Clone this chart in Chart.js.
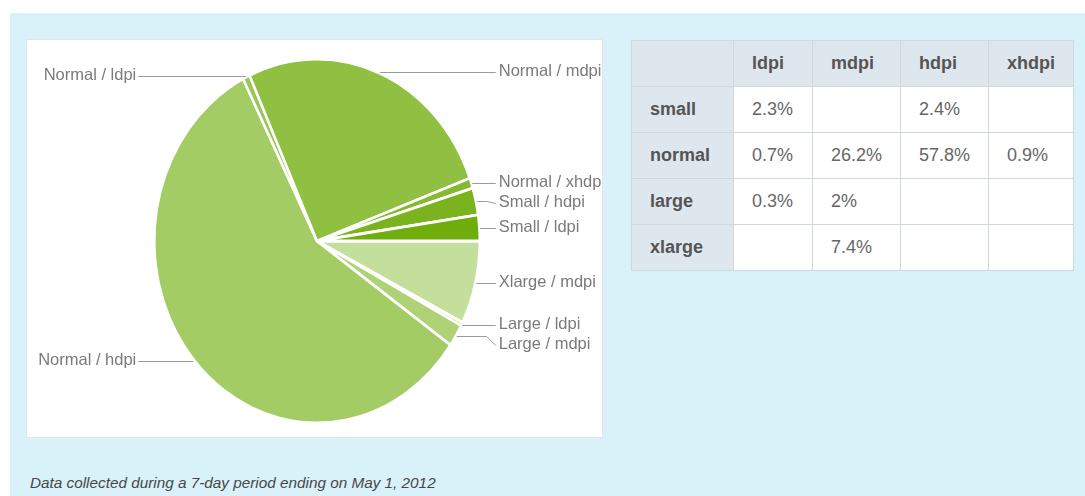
<!DOCTYPE html>
<html>
<head>
<meta charset="utf-8">
<script src="https://cdn.jsdelivr.net/npm/chart.js@4.4.1/dist/chart.umd.min.js"></script>
<style>
  html, body { margin: 0; padding: 0; background: #ffffff; width: 1085px; height: 496px; overflow: hidden; font-family: "Liberation Sans", Arial, sans-serif; }
  #bg { position: absolute; left: 10px; top: 13px; right: 0; bottom: 0; background: #d9f1f9; }
  #panel { position: absolute; left: 27px; top: 40px; width: 575px; height: 397px; background: #ffffff; box-shadow: 0 0 0 1px #dfe6ea; overflow: hidden; }
  #panel canvas { position: absolute; left: 0; top: 0; }
  #tbl { position: absolute; left: 631px; top: 40px; border-collapse: collapse; font-size: 18px; }
  #tbl td, #tbl th { border: 1px solid #cfd8df; height: 46px; padding: 0 0 0 18px; text-align: left; box-sizing: border-box; }
  #tbl th { background: #dfe7ee; color: #555; font-weight: bold; }
  #tbl td { background: #ffffff; color: #666; }
  #caption { position: absolute; left: 30px; top: 474px; font-style: italic; font-size: 15.3px; color: #474747; white-space: nowrap; }
</style>
</head>
<body>
<div id="bg"></div>
<div id="panel"><canvas id="pie" width="575" height="397"></canvas></div>
<table id="tbl"></table>
<div id="caption">Data collected during a 7-day period ending on May 1, 2012</div>
<script>
// ---- data ----
const categories = ['Xlarge / mdpi', 'Large / ldpi', 'Large / mdpi', 'Normal / hdpi', 'Normal / ldpi', 'Normal / mdpi', 'Normal / xhdpi', 'Small / hdpi', 'Small / ldpi'];
const shares = [7.4, 0.3, 2, 57.8, 0.7, 26.2, 0.9, 2.4, 2.3];
const sliceColors = ['#c4df9b', '#b9d989', '#afd277', '#a4cc65', '#9ac654', '#8fc042', '#84b930', '#7ab31e', '#6fad0c'];

const densities = ['ldpi', 'mdpi', 'hdpi', 'xhdpi'];
const screenSizes = ['small', 'normal', 'large', 'xlarge'];
const smallRow = ['2.3%', '', '2.4%', ''];
const normalRow = ['0.7%', '26.2%', '57.8%', '0.9%'];
const largeRow = ['0.3%', '2%', '', ''];
const xlargeRow = ['', '7.4%', '', ''];
const tableRows = [smallRow, normalRow, largeRow, xlargeRow];

// ---- table ----
const colWidths = [102, 79, 88, 88, 85];
const tbl = document.getElementById('tbl');
let html = '<tr><th style="width:' + colWidths[0] + 'px"></th>';
densities.forEach((d, i) => { html += '<th style="width:' + colWidths[i + 1] + 'px">' + d + '</th>'; });
html += '</tr>';
screenSizes.forEach((s, r) => {
  html += '<tr><th>' + s + '</th>';
  tableRows[r].forEach(v => { html += '<td>' + v + '</td>'; });
  html += '</tr>';
});
tbl.innerHTML = html;

// ---- pie ----
const STRETCH = 1.118;
function drawLabels(chart) {
  const ctx = chart.ctx;
  const meta = chart.getDatasetMeta(0);
  const items = meta.data.map((arc, i) => {
    const p = arc.getProps(['startAngle', 'endAngle', 'outerRadius', 'x', 'y'], true);
    const mid = (p.startAngle + p.endAngle) / 2;
    const r = p.outerRadius + 1;
    const px = p.x + r * Math.cos(mid);
    const py = p.y + STRETCH * r * Math.sin(mid);
    return { i, px, py, ly: py, cx: p.x, R: p.outerRadius, side: Math.cos(mid) >= 0 ? 'right' : 'left' };
  });
  const gap = 20;
  ['right', 'left'].forEach(side => {
    const list = items.filter(it => it.side === side).sort((a, b) => a.py - b.py);
    for (let k = 1; k < list.length; k++) {
      if (list[k].ly < list[k - 1].ly + gap) list[k].ly = list[k - 1].ly + gap;
    }
  });
  ctx.save();
  ctx.font = '16.5px "Liberation Sans", Arial, sans-serif';
  ctx.textBaseline = 'middle';
  ctx.lineWidth = 1;
  ctx.strokeStyle = '#9a9a9a';
  ctx.fillStyle = '#7a7a7a';
  items.forEach(it => {
    const ly = Math.round(it.ly) + 0.5;
    const py = Math.round(it.py) + 0.5;
    ctx.beginPath();
    if (it.side === 'right') {
      const textX = it.cx + it.R + 19;
      const endX = textX - 3;
      ctx.moveTo(it.px, py);
      if (Math.abs(ly - py) < 1.5) {
        ctx.lineTo(endX, py);
      } else {
        ctx.lineTo(endX - 9, py);
        ctx.lineTo(endX, ly);
      }
      ctx.stroke();
      ctx.textAlign = 'left';
      ctx.fillText(categories[it.i], textX, ly - 1);
    } else {
      const textX = it.cx - it.R - 18;
      const startX = textX + 2;
      ctx.moveTo(it.px, py);
      if (Math.abs(ly - py) < 1.5) {
        ctx.lineTo(startX, py);
      } else {
        ctx.lineTo(startX + 9, py);
        ctx.lineTo(startX, ly);
      }
      ctx.stroke();
      ctx.textAlign = 'right';
      ctx.fillText(categories[it.i], textX, ly - 1);
    }
  });
  ctx.restore();
}

const ellipsePlugin = {
  id: 'ellipsePie',
  beforeDatasetsDraw(chart) {
    const a = chart.chartArea;
    const cx = (a.left + a.right) / 2, cy = (a.top + a.bottom) / 2;
    const ctx = chart.ctx;
    ctx.save();
    ctx.translate(cx, cy);
    ctx.scale(1, STRETCH);
    ctx.translate(-cx, -cy);
  },
  afterDatasetsDraw(chart) {
    chart.ctx.restore();
    drawLabels(chart);
  }
};

new Chart(document.getElementById('pie'), {
  type: 'pie',
  data: {
    labels: categories,
    datasets: [{
      data: shares,
      backgroundColor: sliceColors,
      borderColor: '#ffffff',
      borderWidth: 2.5
    }]
  },
  options: {
    responsive: false,
    animation: false,
    rotation: 90,
    layout: { padding: { left: 126, right: 121, top: 37, bottom: 32 } },
    plugins: { legend: { display: false }, tooltip: { enabled: false } }
  },
  plugins: [ellipsePlugin]
});
</script>
</body>
</html>
